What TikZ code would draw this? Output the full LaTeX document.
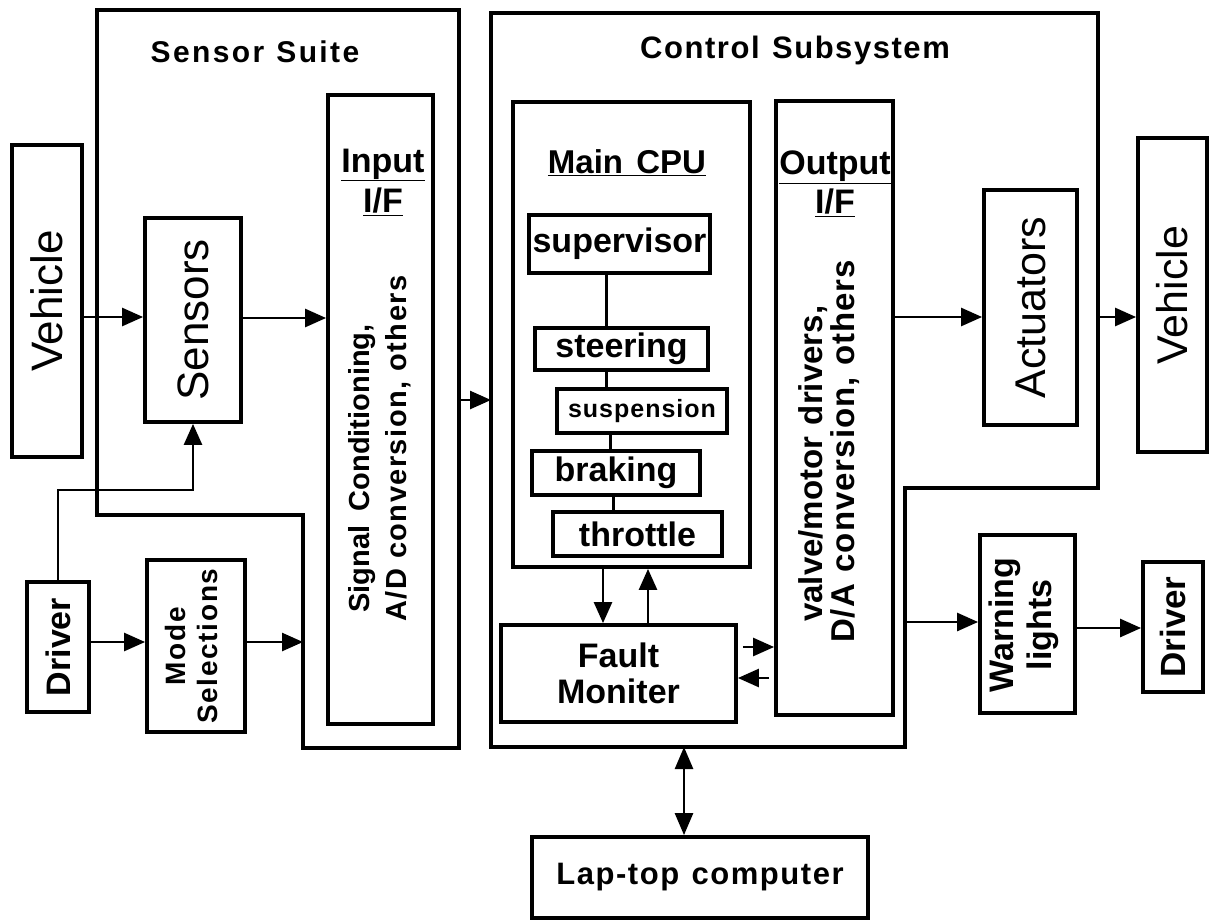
\documentclass[tikz,border=0pt]{standalone}
\usepackage{fontspec}
\setmainfont{Liberation Sans}
\usetikzlibrary{arrows.meta,calc}
\newcommand{\fs}[1]{\fontsize{#1}{#1}\selectfont}
\begin{document}
\begin{tikzpicture}[x=1pt,y=-1pt,
  box/.style={draw, line width=3.8pt, inner sep=0pt, font=\bfseries},
  cont/.style={draw, line width=3.8pt, line join=miter},
  conn/.style={line width=2.6pt},
  arr/.style={conn, -{Triangle[length=21pt,width=18pt]}},
  dbl/.style={conn, {Triangle[length=22pt,width=18pt]}-{Triangle[length=22pt,width=18pt]}},
  txt/.style={inner sep=0pt, font=\bfseries},
  rot/.style={inner sep=0pt, rotate=90}
]
\useasboundingbox (0,0) rectangle (1210,919);

% containers
\draw[cont] (97,10) -- (459,10) -- (459,748) -- (303,748) -- (303,515) -- (97,515) -- cycle;
\draw[cont] (491,13) -- (1098,13) -- (1098,488) -- (905,488) -- (905,747) -- (491,747) -- cycle;
\coordinate (ssR) at (459,400);
\coordinate (ssM) at (303,642);
\coordinate (csL) at (491,400);
\coordinate (csR) at (1098,317);
\coordinate (csW) at (905,622);
\coordinate (csB) at (684,747);

\node[txt, font={\bfseries\fs{30}\addfontfeature{LetterSpace=8}}] (sstitle) at (255,52) {Sensor\hspace{0.4em}Suite};
\node[txt, font={\bfseries\fs{31}\addfontfeature{LetterSpace=5}}] (cstitle) at (795,50) {Control\hspace{0.4em}Subsystem};

% left side
\node[box, minimum width=70pt, minimum height=312pt] (vehL) at (47,301) {\rotatebox{90}{\fs{44}\mdseries Vehicle}};
\node[box, minimum width=96pt, minimum height=204pt] (sens) at (193,320) {\rotatebox{90}{\fs{44}\mdseries Sensors}};
\node[box, minimum width=105pt, minimum height=629pt] (inif) at (380.5,409.5) {};
\node[txt, font={\bfseries\fs{34}}] (inift) at (383,165) {\underline{Input}};
\node[txt, font={\bfseries\fs{34}}] (inifu) at (383,202) {\underline{I/F}};
\node[rot, anchor=west, font={\bfseries\fs{29}}] (inl1) at (362,613) {Signal\hspace{0.5em}Conditioning,};
\node[rot, anchor=west, font={\bfseries\fs{29}\addfontfeature{LetterSpace=5}}] (inl2) at (398,622) {A/D\hspace{0.35em}conversion,\hspace{0.35em}others};

\node[box, minimum width=62pt, minimum height=130pt] (drvL) at (58,647) {\rotatebox{90}{\fs{34}Driver}};
\node[box, minimum width=98pt, minimum height=172pt] (mode) at (196,646) {};
\node[rot, align=center, font={\bfseries\fs{28}\addfontfeature{LetterSpace=6}}] (modet) at (191,646) {Mode\\[4pt]Selections};

% control subsystem
\node[box, minimum width=237pt, minimum height=465pt] (cpu) at (631.5,334.5) {};
\node[txt, font={\bfseries\fs{33}}] (cput) at (627,163) {\underline{Main\hspace{0.4em}CPU}};
\node[box, minimum width=181pt, minimum height=58pt, font={\bfseries\fs{34}}] (sup) at (619.5,244) {supervisor};
\node[box, minimum width=173pt, minimum height=42pt, font={\bfseries\fs{34}}] (steer) at (621.5,349) {steering};
\node[box, minimum width=170pt, minimum height=44pt, font={\bfseries\fs{25}\addfontfeature{LetterSpace=4}}] (susp) at (642,411) {suspension};
\node[box, minimum width=168pt, minimum height=44pt, font={\bfseries\fs{34}}] (brak) at (616,473) {braking};
\node[box, minimum width=169pt, minimum height=44pt, font={\bfseries\fs{34}}] (thr) at (637.5,534) {throttle};
\coordinate (c1) at (606,0);
\coordinate (c2) at (610,0);
\coordinate (c3) at (613,0);
\draw[conn, line width=3pt] (sup.south -| c1) -- (steer.north -| c1);
\draw[conn, line width=3pt] (steer.south -| c1) -- (susp.north -| c1);
\draw[conn, line width=3pt] (susp.south -| c2) -- (brak.north -| c2);
\draw[conn, line width=3pt] (brak.south -| c3) -- (thr.north -| c3);

\node[box, minimum width=235pt, minimum height=97pt, align=center, font={\bfseries\fs{34}}] (fault) at (618.5,673.5) {Fault\\[2pt]Moniter};

\node[box, minimum width=117pt, minimum height=614pt] (outif) at (834.5,408) {};
\node[txt, font={\bfseries\fs{34}}] (outift) at (835,167) {\underline{Output}};
\node[txt, font={\bfseries\fs{34}}] (outifu) at (835,203) {\underline{I/F}};
\node[rot, anchor=west, font={\bfseries\fs{33}}] (outl1) at (813,622) {valve/motor\hspace{0.35em}drivers,};
\node[rot, anchor=west, font={\bfseries\fs{33}\addfontfeature{LetterSpace=3}}] (outl2) at (845,643) {D/A\hspace{0.35em}conversion,\hspace{0.35em}others};

% right side
\node[box, minimum width=93pt, minimum height=235pt] (act) at (1030.5,307.5) {\rotatebox{90}{\fs{43}\mdseries Actuators}};
\node[box, minimum width=69pt, minimum height=314pt] (vehR) at (1172.5,295) {\rotatebox{90}{\fs{43}\mdseries Vehicle}};
\node[box, minimum width=95pt, minimum height=178pt] (warn) at (1027.5,624) {};
\node[rot, align=center, font={\bfseries\fs{34}}] (warnt) at (1024,625) {Warning\\[4pt]lights};
\node[box, minimum width=60pt, minimum height=130pt] (drvR) at (1173,627) {\rotatebox{90}{\fs{35}Driver}};
\node[box, minimum width=336pt, minimum height=81pt, font={\bfseries\fs{31}\addfontfeature{LetterSpace=5}}] (lap) at (700,877.5) {Lap-top\hspace{0.4em}computer};

% connectors
\coordinate (y317) at (0,317);
\coordinate (y318) at (0,318);
\coordinate (y642) at (0,642);
\coordinate (y647) at (0,647);
\coordinate (y678) at (0,678);
\coordinate (y628) at (0,628);
\coordinate (x603) at (603,0);
\coordinate (x648) at (648,0);
\draw[arr] (vehL.east |- y317) -- (sens.west |- y317);
\draw[arr] (sens.east |- y318) -- (inif.west |- y318);
\draw[arr] (ssR) -- (csL);
\draw[arr] (drvL.north) |- ($(sens.south)+(0,66)$) -- (sens.south);
\draw[arr] (drvL.east |- y642) -- (mode.west |- y642);
\draw[arr] (mode.east |- y642) -- (ssM);
\draw[arr] (cpu.south -| x603) -- (fault.north -| x603);
\draw[arr] (fault.north -| x648) -- (cpu.south -| x648);
\draw[arr] ($(fault.east |- y647)+(5,0)$) -- (outif.west |- y647);
\draw[arr] ($(outif.west |- y678)+(-5,0)$) -- (fault.east |- y678);
\draw[arr] (outif.east |- y317) -- (act.west |- y317);
\draw[arr] (csR) -- (vehR.west |- csR);
\draw[arr] (csW) -- (warn.west |- csW);
\draw[arr] (warn.east |- y628) -- (drvR.west |- y628);
\draw[dbl] (csB) -- (lap.north -| csB);
\end{tikzpicture}
\end{document}
